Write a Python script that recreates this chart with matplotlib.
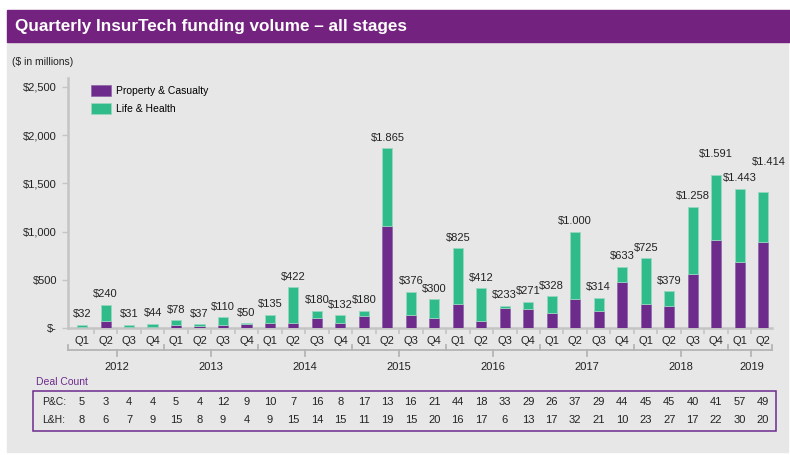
import matplotlib
matplotlib.use("Agg")
import matplotlib.pyplot as plt
from matplotlib.patches import Rectangle
from matplotlib.transforms import blended_transform_factory

plt.rcParams['font.family'] = ['Liberation Sans', 'DejaVu Sans']

# --- Data ($ millions) ---
quarters = ["Q1", "Q2", "Q3", "Q4"] * 7 + ["Q1", "Q2"]
years = ["2012", "2013", "2014", "2015", "2016", "2017", "2018", "2019"]
year_sizes = [4, 4, 4, 4, 4, 4, 4, 2]
totals = [32, 240, 31, 44, 78, 37, 110, 50, 135, 422, 180, 132, 180, 1865, 376,
          300, 825, 412, 233, 271, 328, 1000, 314, 633, 725, 379, 1258, 1591, 1443, 1414]
pc_values = [15, 70, 15, 15, 35, 20, 35, 40, 50, 50, 105, 50, 120, 1060, 140,
             105, 250, 70, 210, 197, 155, 300, 175, 475, 250, 225, 565, 910, 685, 895]
lh_values = [t - p for t, p in zip(totals, pc_values)]
pc_deals = [5, 3, 4, 4, 5, 4, 12, 9, 10, 7, 16, 8, 17, 13, 16, 21, 44, 18, 33, 29,
            26, 37, 29, 44, 45, 45, 40, 41, 57, 49]
lh_deals = [8, 6, 7, 9, 15, 8, 9, 4, 9, 15, 14, 15, 11, 19, 15, 20, 16, 17, 6, 13,
            17, 32, 21, 10, 23, 27, 17, 22, 30, 20]
yticks = [0, 500, 1000, 1500, 2000, 2500]
ytick_labels = ["$-", "$500", "$1,000", "$1,500", "$2,000", "$2,500"]

PURPLE = "#6d2b8c"
GREEN = "#2fbb8a"
TITLE_BG = "#74227f"
PANEL = "#e7e7e7"
GRID = "#c4c4c4"
W, H = 790, 455

# label nudges (points) where the reference moves labels apart
nudge = {27: (0, 7), 29: (4, 14)}

fig = plt.figure(figsize=(7.9, 4.55), dpi=100, facecolor="white")


def fx(px):
    return px / W


def fy(py):
    return 1 - py / H


# background panel + title bar
fig.patches.append(Rectangle((fx(7), fy(452)), fx(781), (452 - 42) / H,
                             transform=fig.transFigure, color=PANEL, zorder=-10))
fig.patches.append(Rectangle((fx(7), fy(42)), fx(783), 32 / H,
                             transform=fig.transFigure, color=TITLE_BG, zorder=-10))
fig.text(fx(15), fy(26), "Quarterly InsurTech funding volume \u2013 all stages",
         color="white", fontsize=12.3, fontweight="bold", va="center", ha="left")
fig.text(fx(12), fy(62), "($ in millions)", fontsize=7.5, va="center", color="#222222")

# main axes: x=68..772 px, y=78..328 px
ax = fig.add_axes([fx(68), fy(328), fx(704), 250 / H])
ax.set_facecolor("none")
x = list(range(len(totals)))
ax.bar(x, pc_values, width=0.43, color=PURPLE, edgecolor="#8d63a8", linewidth=0.5,
       label="Property & Casualty", zorder=3)
ax.bar(x, lh_values, width=0.43, bottom=pc_values, color=GREEN, edgecolor="#9ad8c0",
       linewidth=0.6, label="Life & Health", zorder=3)

for xi, t in zip(x, totals):
    dx, dy = nudge.get(xi, (0, 0))
    ax.annotate("$" + f"{t:,}".replace(",", "."), (xi, t), xytext=(dx, 4 + dy),
                textcoords="offset points", ha="center", va="bottom",
                fontsize=8, color="#222222")

ax.set_xlim(-0.6, 29.38)
ax.set_ylim(0, 2593)
ax.set_yticks(yticks)
ax.set_yticklabels(ytick_labels)
ax.set_xticks(x)
ax.set_xticklabels(quarters)
ax.set_xticks([i + 0.5 for i in x[:-1]], minor=True)
ax.tick_params(axis="x", which="major", length=0, pad=6, labelsize=8, colors="#222222")
ax.tick_params(axis="x", which="minor", length=4, width=1.2, color=GRID, direction="out")
ax.tick_params(axis="y", length=4, width=1, color=GRID, pad=4, labelsize=8,
               labelcolor="#222222")
for side in ["top", "right"]:
    ax.spines[side].set_visible(False)
for side in ["left", "bottom"]:
    ax.spines[side].set_color(GRID)
    ax.spines[side].set_linewidth(1.8)

leg = ax.legend(loc="upper left", bbox_to_anchor=((84 - 68) / 704, 1.0),
                frameon=False, fontsize=7.5, handlelength=1.9, handleheight=1.15,
                handletextpad=0.5, labelspacing=0.7, borderaxespad=0.3)

# year brackets below quarter labels
tr = blended_transform_factory(ax.transData, fig.transFigure)
edges = [-0.6]
pos = -0.5
for n in year_sizes:
    pos += n
    edges.append(pos)
edges[-1] = 29.38
ax.plot([edges[0], edges[-1]], [fy(350), fy(350)], color="#b5b5b5", lw=1.3,
        transform=tr, clip_on=False)
for e in edges:
    ax.plot([e, e], [fy(345), fy(350)], color="#b5b5b5", lw=1.3,
            transform=tr, clip_on=False)
pos = -0.5
for yr, n in zip(years, year_sizes):
    c = pos + n / 2
    ax.plot([c, c], [fy(350), fy(356)], color="#b5b5b5", lw=1.3,
            transform=tr, clip_on=False)
    ax.text(c, fy(367), yr, transform=tr, ha="center", va="center", fontsize=8,
            color="#222222")
    pos += n

# deal count table
fig.text(fx(36), fy(382), "Deal Count", color=PURPLE, fontsize=7.5, va="center")
fig.patches.append(Rectangle((fx(33), fy(431)), fx(743), 40 / H,
                             transform=fig.transFigure, fill=False,
                             edgecolor=PURPLE, linewidth=1.1, zorder=2))
fig.text(fx(42), fy(402), "P&C:", fontsize=7.5, va="center", color="#222222")
fig.text(fx(42), fy(420), "L&H:", fontsize=7.5, va="center", color="#222222")
for xi, a, b in zip(x, pc_deals, lh_deals):
    ax.text(xi, fy(402), str(a), transform=tr, ha="center", va="center",
            fontsize=8, color="#222222")
    ax.text(xi, fy(420), str(b), transform=tr, ha="center", va="center",
            fontsize=8, color="#222222")

fig.savefig("out.png", dpi=100, facecolor="white")
